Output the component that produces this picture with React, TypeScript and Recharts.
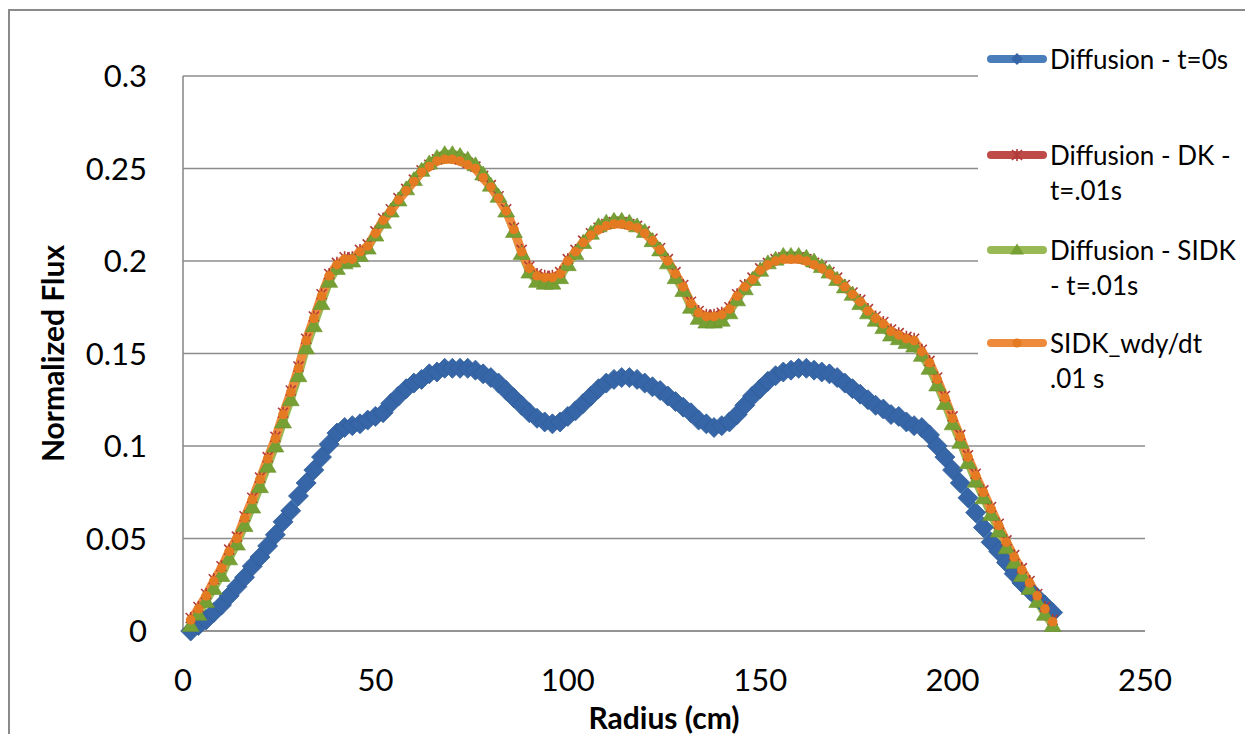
import React from "react";
import {
  CartesianGrid,
  Label,
  Legend,
  Line,
  LineChart,
  XAxis,
  YAxis
} from "recharts";

// radius mesh (cm)
const radius = [
  2, 4, 6, 8, 10, 12, 14, 16, 18, 20,
  22, 24, 26, 28, 30, 32, 34, 36, 38, 40,
  42, 44, 46, 48, 50, 52, 54, 56, 58, 60,
  62, 64, 66, 68, 70, 72, 74, 76, 78, 80,
  82, 84, 86, 88, 90, 92, 94, 96, 98, 100,
  102, 104, 106, 108, 110, 112, 114, 116, 118, 120,
  122, 124, 126, 128, 130, 132, 134, 136, 138, 140,
  142, 144, 146, 148, 150, 152, 154, 156, 158, 160,
  162, 164, 166, 168, 170, 172, 174, 176, 178, 180,
  182, 184, 186, 188, 190, 192, 194, 196, 198, 200,
  202, 204, 206, 208, 210, 212, 214, 216, 218, 220,
  222, 224, 226
];

const diffusionT0 = [
  0.000, 0.003, 0.006, 0.010, 0.014, 0.019, 0.024, 0.029, 0.035, 0.040,
  0.046, 0.052, 0.059, 0.065, 0.073, 0.080, 0.087, 0.094, 0.101, 0.107,
  0.110, 0.111, 0.112, 0.114, 0.116, 0.118, 0.123, 0.127, 0.131, 0.134,
  0.136, 0.139, 0.140, 0.142, 0.142, 0.142, 0.142, 0.141, 0.139, 0.137,
  0.134, 0.130, 0.126, 0.122, 0.118, 0.115, 0.113, 0.112, 0.113, 0.116,
  0.119, 0.123, 0.127, 0.131, 0.134, 0.136, 0.137, 0.137, 0.136, 0.134,
  0.132, 0.130, 0.127, 0.124, 0.121, 0.118, 0.114, 0.112, 0.110, 0.111,
  0.113, 0.117, 0.122, 0.127, 0.131, 0.135, 0.138, 0.140, 0.141, 0.142,
  0.142, 0.141, 0.140, 0.139, 0.137, 0.134, 0.131, 0.128, 0.125, 0.122,
  0.120, 0.117, 0.116, 0.113, 0.111, 0.110, 0.106, 0.100, 0.094, 0.087,
  0.080, 0.072, 0.064, 0.056, 0.048, 0.043, 0.037, 0.031, 0.026, 0.022,
  0.018, 0.014, 0.010
];

const diffusionDK = [
  0.007, 0.013, 0.020, 0.028, 0.035, 0.044, 0.051, 0.062, 0.072, 0.083,
  0.094, 0.105, 0.118, 0.130, 0.143, 0.158, 0.170, 0.182, 0.193, 0.199,
  0.202, 0.202, 0.206, 0.209, 0.216, 0.223, 0.228, 0.234, 0.239, 0.244,
  0.249, 0.252, 0.255, 0.256, 0.256, 0.255, 0.253, 0.251, 0.246, 0.241,
  0.235, 0.228, 0.218, 0.206, 0.197, 0.193, 0.192, 0.192, 0.194, 0.201,
  0.206, 0.211, 0.215, 0.218, 0.220, 0.221, 0.221, 0.220, 0.219, 0.216,
  0.212, 0.207, 0.201, 0.194, 0.187, 0.178, 0.173, 0.171, 0.171, 0.172,
  0.175, 0.182, 0.187, 0.191, 0.196, 0.199, 0.201, 0.202, 0.202, 0.202,
  0.201, 0.199, 0.197, 0.194, 0.191, 0.187, 0.183, 0.179, 0.174, 0.170,
  0.167, 0.163, 0.161, 0.159, 0.158, 0.152, 0.146, 0.137, 0.127, 0.116,
  0.106, 0.095, 0.085, 0.076, 0.067, 0.058, 0.049, 0.041, 0.034, 0.027,
  0.020, 0.013, 0.006
];

const diffusionSIDK = [
  0.003, 0.009, 0.016, 0.023, 0.030, 0.039, 0.047, 0.057, 0.067, 0.078,
  0.089, 0.100, 0.113, 0.125, 0.138, 0.153, 0.165, 0.177, 0.189, 0.196,
  0.199, 0.200, 0.203, 0.207, 0.214, 0.221, 0.227, 0.233, 0.239, 0.244,
  0.249, 0.253, 0.256, 0.258, 0.258, 0.257, 0.255, 0.252, 0.247, 0.241,
  0.235, 0.227, 0.216, 0.204, 0.194, 0.189, 0.188, 0.188, 0.191, 0.198,
  0.204, 0.210, 0.215, 0.219, 0.221, 0.222, 0.222, 0.221, 0.219, 0.216,
  0.211, 0.206, 0.199, 0.191, 0.184, 0.175, 0.169, 0.167, 0.167, 0.168,
  0.172, 0.179, 0.185, 0.190, 0.195, 0.199, 0.201, 0.203, 0.203, 0.203,
  0.202, 0.200, 0.197, 0.194, 0.190, 0.186, 0.182, 0.177, 0.172, 0.168,
  0.164, 0.160, 0.158, 0.156, 0.154, 0.149, 0.142, 0.133, 0.123, 0.112,
  0.102, 0.091, 0.081, 0.072, 0.063, 0.054, 0.045, 0.037, 0.030, 0.023,
  0.016, 0.009, 0.003
];

const sidkWdyDt = [
  0.006, 0.012, 0.019, 0.027, 0.034, 0.043, 0.050, 0.061, 0.071, 0.082,
  0.093, 0.104, 0.117, 0.129, 0.142, 0.157, 0.169, 0.181, 0.192, 0.198,
  0.201, 0.201, 0.205, 0.208, 0.215, 0.222, 0.227, 0.233, 0.238, 0.243,
  0.248, 0.251, 0.254, 0.255, 0.255, 0.254, 0.252, 0.250, 0.245, 0.240,
  0.234, 0.227, 0.217, 0.205, 0.196, 0.192, 0.191, 0.191, 0.193, 0.200,
  0.205, 0.210, 0.214, 0.217, 0.219, 0.220, 0.220, 0.219, 0.218, 0.215,
  0.211, 0.206, 0.200, 0.193, 0.186, 0.177, 0.172, 0.170, 0.170, 0.171,
  0.174, 0.181, 0.186, 0.190, 0.195, 0.198, 0.200, 0.201, 0.201, 0.201,
  0.200, 0.198, 0.196, 0.193, 0.190, 0.186, 0.182, 0.178, 0.173, 0.169,
  0.166, 0.162, 0.160, 0.158, 0.157, 0.151, 0.145, 0.136, 0.126, 0.115,
  0.105, 0.094, 0.084, 0.075, 0.066, 0.057, 0.048, 0.040, 0.033, 0.026,
  0.019, 0.012, 0.005
];

const xTicks = [0, 50, 100, 150, 200, 250];
const yTicks = [0, 0.05, 0.1, 0.15, 0.2, 0.25, 0.3];

const seriesNames = [
  "Diffusion - t=0s",
  "Diffusion - DK - t=.01s",
  "Diffusion - SIDK - t=.01s",
  "SIDK_wdy/dt .01 s"
];
const legendLines = [
  ["Diffusion - t=0s"],
  ["Diffusion - DK -", "t=.01s"],
  ["Diffusion - SIDK", "- t=.01s"],
  ["SIDK_wdy/dt", ".01 s"]
];

const data = radius.map((r, i) => ({
  r,
  t0: diffusionT0[i],
  dk: diffusionDK[i],
  sidk: diffusionSIDK[i],
  wdy: sidkWdyDt[i]
}));

const FONT = "Lato, 'Open Sans', sans-serif";
const GRID = "#8c8c8c";

const BLUE = { line: "#4a7ebb", mark: "#3766a8" };
const RED = { line: "#be4b48", mark: "#b03a37" };
const GREEN = { line: "#98b954", mark: "#76a033" };
const ORANGE = { line: "#ee8a3c", mark: "#e47b22" };

const diamondPath = (x: number, y: number, s = 10) =>
  `M${x},${y - s}L${x + s},${y}L${x},${y + s}L${x - s},${y}Z`;
const trianglePath = (x: number, y: number, w = 8.5, h = 14) =>
  `M${x},${y - h / 2 - 1}L${x + w},${y + h / 2 - 1}L${x - w},${y + h / 2 - 1}Z`;
const starPath = (x: number, y: number, s = 5) =>
  `M${x - s},${y - s}L${x + s},${y + s}M${x - s},${y + s}L${x + s},${y - s}M${x},${y - s - 1}L${x},${y + s + 1}`;

const DiamondDot = (p: any) => (
  <path key={`d-${p.index}`} d={diamondPath(p.cx, p.cy)} fill={BLUE.mark} stroke="#2f5d98" strokeWidth={0.8} />
);
const StarDot = (p: any) => (
  <path key={`s-${p.index}`} d={starPath(p.cx, p.cy)} stroke={RED.mark} strokeWidth={1.6} fill="none" />
);
const TriangleDot = (p: any) => (
  <path key={`t-${p.index}`} d={trianglePath(p.cx, p.cy)} fill={GREEN.mark} stroke="#6a922d" strokeWidth={0.6} />
);
const CircleDot = (p: any) => (
  <circle key={`c-${p.index}`} cx={p.cx} cy={p.cy} r={4.8} fill={ORANGE.mark} />
);

const legendIcons = [
  { color: BLUE.line, mark: (x: number, y: number) => <path d={diamondPath(x, y, 6)} fill={BLUE.mark} /> },
  { color: RED.line, mark: (x: number, y: number) => <path d={starPath(x, y)} stroke={RED.mark} strokeWidth={1.6} /> },
  { color: GREEN.line, mark: (x: number, y: number) => <path d={trianglePath(x, y, 7, 11)} fill={GREEN.mark} /> },
  { color: ORANGE.line, mark: (x: number, y: number) => <circle cx={x} cy={y} r={4.6} fill={ORANGE.mark} /> }
];
const legendRowCenters = [29, 125, 220, 313];

const renderLegend = () => (
  <div style={{ position: "relative", width: 267, height: 380, background: "#fff", fontFamily: FONT }}>
    {legendLines.map((lines, i) => (
      <div key={seriesNames[i]}>
        <svg
          width={62}
          height={20}
          style={{ position: "absolute", left: 8, top: legendRowCenters[i] - 10 }}
        >
          <line x1={5} y1={10} x2={57} y2={10} stroke={legendIcons[i].color} strokeWidth={8} strokeLinecap="round" />
          {legendIcons[i].mark(31, 10)}
        </svg>
        <div
          style={{
            position: "absolute",
            left: 72,
            top: legendRowCenters[i] - 17.5,
            fontSize: 26,
            lineHeight: "35px",
            color: "#000",
            whiteSpace: "nowrap"
          }}
        >
          {lines.map((l) => (
            <div key={l}>{l}</div>
          ))}
        </div>
      </div>
    ))}
  </div>
);

export default function App() {
  return (
    <div style={{ position: "relative", width: 1237, height: 726, overflow: "hidden", fontFamily: FONT }}>
      <div
        style={{
          position: "absolute",
          left: 0,
          top: 1,
          width: 1300,
          height: 800,
          borderLeft: "2px solid #8a8a8a",
          borderTop: "2px solid #8a8a8a"
        }}
      />
      <LineChart
        width={1237}
        height={726}
        data={data}
        margin={{ top: 68, right: 100, bottom: 0, left: 0 }}
        style={{ position: "absolute", left: 0, top: 0 }}
      >
        <CartesianGrid vertical={false} stroke={GRID} strokeWidth={1.6} />
        <XAxis
          dataKey="r"
          type="number"
          domain={[0, 250]}
          ticks={xTicks}
          height={103}
          tickLine={false}
          tickSize={0}
          tickMargin={38}
          axisLine={{ stroke: GRID, strokeWidth: 1.6 }}
          tick={{ fontSize: 31, fill: "#000", fontFamily: FONT }}
        >
          <Label
            content={({ viewBox }: any) => (
              <text
                x={viewBox.x + viewBox.width / 2}
                y={viewBox.y + 86}
                textAnchor="middle"
                dominantBaseline="central"
                fontSize={30}
                fontWeight="bold"
                fontFamily={FONT}
                fill="#000"
              >
                Radius (cm)
              </text>
            )}
          />
        </XAxis>
        <YAxis
          type="number"
          domain={[0, 0.3]}
          ticks={yTicks}
          width={175}
          tickLine={false}
          tickSize={0}
          tickMargin={36}
          tickFormatter={(v: number) => String(v)}
          axisLine={{ stroke: GRID, strokeWidth: 1.6 }}
          tick={{ fontSize: 31, fill: "#000", fontFamily: FONT }}
        >
          <Label
            content={({ viewBox }: any) => (
              <text
                x={viewBox.x + 44}
                y={viewBox.y + viewBox.height / 2}
                transform={`rotate(-90 ${viewBox.x + 44} ${viewBox.y + viewBox.height / 2})`}
                textAnchor="middle"
                dominantBaseline="central"
                fontSize={30}
                fontWeight="bold"
                fontFamily={FONT}
                fill="#000"
              >
                Normalized Flux
              </text>
            )}
          />
        </YAxis>
        <Legend
          verticalAlign="middle"
          align="center"
          layout="horizontal"
          content={renderLegend}
          wrapperStyle={{ left: 970, top: 22, width: 267, height: 380 }}
        />
        <Line
          dataKey="t0"
          name={seriesNames[0]}
          stroke={BLUE.line}
          strokeWidth={9}
          strokeLinejoin="round"
          strokeLinecap="round"
          dot={DiamondDot}
          activeDot={false}
          isAnimationActive={false}
        />
        <Line
          dataKey="dk"
          name={seriesNames[1]}
          stroke={RED.line}
          strokeWidth={4}
          strokeLinejoin="round"
          strokeLinecap="round"
          dot={StarDot}
          activeDot={false}
          isAnimationActive={false}
        />
        <Line
          dataKey="sidk"
          name={seriesNames[2]}
          stroke={GREEN.line}
          strokeWidth={8}
          strokeLinejoin="round"
          strokeLinecap="round"
          dot={TriangleDot}
          activeDot={false}
          isAnimationActive={false}
        />
        <Line
          dataKey="wdy"
          name={seriesNames[3]}
          stroke={ORANGE.line}
          strokeWidth={9}
          strokeLinejoin="round"
          strokeLinecap="round"
          dot={CircleDot}
          activeDot={false}
          isAnimationActive={false}
        />
      </LineChart>
    </div>
  );
}
